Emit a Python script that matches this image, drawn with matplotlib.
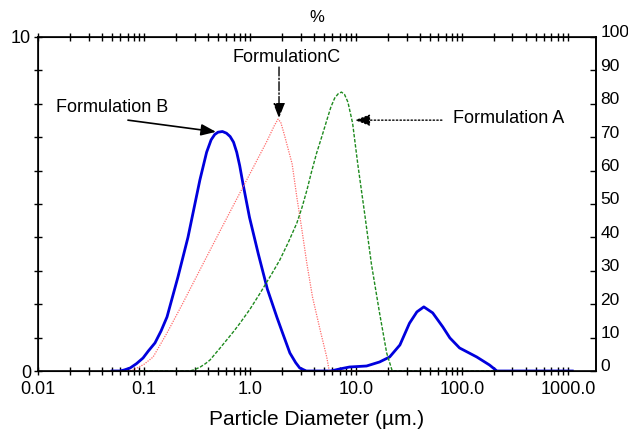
import numpy as np
import matplotlib
matplotlib.use('Agg')
import matplotlib.pyplot as plt
from matplotlib.ticker import FixedLocator, FixedFormatter, LogLocator, NullFormatter
from matplotlib.transforms import ScaledTranslation

plt.rcParams['font.family'] = ['Liberation Sans', 'DejaVu Sans']

# particle size distributions (diameter in um, volume %)
b_size = [0.05, 0.059, 0.065, 0.074, 0.085, 0.098, 0.11, 0.127, 0.145, 0.165, 0.209,
          0.26, 0.3, 0.337, 0.39, 0.43, 0.465, 0.5, 0.55, 0.6, 0.65, 0.7, 0.75,
          0.8, 0.86, 0.99, 1.2, 1.46, 1.8, 2.03, 2.38, 2.7, 2.95, 3.4, 5.8, 7.0, 8.7,
          12.6, 16.7, 20.8, 26, 32, 37.6, 43.7, 53, 66, 77, 95, 138, 182, 214, 1100]
b_vol = [0, 0, 0.03, 0.09, 0.22, 0.39, 0.6, 0.84, 1.2, 1.62, 2.81,
         4.0, 4.95, 5.72, 6.55, 6.92, 7.08, 7.15, 7.17, 7.12, 7.02, 6.85, 6.55,
         6.15, 5.6, 4.6, 3.5, 2.45, 1.6, 1.14, 0.54, 0.25, 0.09, 0, 0, 0.06, 0.12,
         0.15, 0.27, 0.42, 0.78, 1.43, 1.77, 1.92, 1.74, 1.32, 0.99, 0.69, 0.42, 0.18, 0, 0]

c_size = [0.07, 0.079, 0.1, 0.122, 0.165, 0.23, 0.34, 0.48, 0.69, 0.99, 1.44, 1.7,
          1.84, 1.95, 2.1, 2.5, 2.77, 3.1, 3.45, 3.9, 4.6, 5.3, 5.6, 22]
c_vol = [0, 0.03, 0.2, 0.42, 1.14, 2.0, 3.05, 3.97, 4.93, 5.88, 6.87, 7.35,
         7.54, 7.45, 7.1, 6.2, 5.2, 4.2, 3.2, 2.2, 1.22, 0.42, 0, 0]

a_size = [0.09, 0.27, 0.3, 0.34, 0.38, 0.42, 0.46, 0.52, 0.6, 0.7, 0.8, 1.0, 1.23, 1.6,
          1.91, 2.3, 2.77, 3.1, 3.45, 3.8, 4.26, 4.8, 5.3, 5.8, 6.3, 6.8, 7.3, 7.8,
          8.4, 9.3, 10.4, 12.1, 14.0, 16.7, 19.5, 22, 220]
a_vol = [0, 0, 0.04, 0.12, 0.22, 0.33, 0.48, 0.68, 0.92, 1.18, 1.42, 1.85, 2.3, 2.9,
         3.32, 3.85, 4.43, 4.9, 5.42, 5.95, 6.53, 7.05, 7.5, 7.9, 8.17, 8.3, 8.35, 8.28,
         8.05, 7.42, 6.2, 4.7, 3.2, 1.74, 0.54, 0, 0]

x_ticks = [0.01, 0.1, 1, 10, 100, 1000]
x_labels = ['0.01', '0.1', '1.0', '10.0', '100.0', '1000.0']
y_ticks = list(range(11))
y_labels = ['0'] + [''] * 9 + ['10']
pct_ticks = list(range(0, 101, 10))

fig = plt.figure(figsize=(6.28, 4.30), dpi=100)
ax = fig.add_axes([0.0605, 0.1372, 0.8885, 0.7768])

ax.plot(b_size, b_vol, color='#0000dd', lw=2.0)
ax.plot(c_size, c_vol, color='#ff6b6b', lw=0.9, ls=(0, (1, 1)))
ax.plot(a_size, a_vol, color='#1e8a1e', lw=1.0, ls=(0, (2.5, 1.2)))

ax.set_xscale('log')
ax.set_xlim(0.01, 1840)
ax.set_ylim(0, 10)
ax.xaxis.set_major_locator(FixedLocator(x_ticks))
ax.xaxis.set_major_formatter(FixedFormatter(x_labels))
ax.xaxis.set_minor_locator(LogLocator(base=10, subs=range(2, 10)))
ax.xaxis.set_minor_formatter(NullFormatter())
ax.yaxis.set_major_locator(FixedLocator(y_ticks))
ax.yaxis.set_major_formatter(FixedFormatter(y_labels))
ax.tick_params(axis='x', which='both', direction='inout', length=6, width=1,
               top=True, labelsize=13, pad=4)
ax.tick_params(axis='y', which='both', direction='inout', length=6, width=1,
               labelsize=13, pad=2)
for s in ax.spines.values():
    s.set_linewidth(1.2)
ax.set_xlabel('Particle Diameter (\u00b5m.)', fontsize=15, labelpad=9)
ax.text(0.5, 1.035, '%', transform=ax.transAxes, ha='center', va='bottom', fontsize=12)

ax2 = ax.twinx()
ax2.set_ylim(0, 100)
ax2.yaxis.set_major_locator(FixedLocator(pct_ticks))
ax2.tick_params(axis='y', direction='in', length=4, width=1, labelsize=12.5, pad=3)
lift = ScaledTranslation(0, 4 / 72, fig.dpi_scale_trans)
for lab in ax2.get_yticklabels():
    lab.set_transform(lab.get_transform() + lift)
ax2.spines['right'].set_linewidth(1.2)

# annotations
ax.text(0.0499, 7.9, 'Formulation B', ha='center', va='center', fontsize=13)
ax.annotate('', xy=(0.478, 7.16), xytext=(0.0706, 7.51),
            arrowprops=dict(arrowstyle='-|>,head_length=0.9,head_width=0.35',
                            color='black', lw=1.2, shrinkA=0, shrinkB=0))
ax.text(2.23, 9.4, 'FormulationC', ha='center', va='center', fontsize=13)
ax.annotate('', xy=(1.88, 7.57), xytext=(1.88, 9.1),
            arrowprops=dict(arrowstyle='-|>,head_length=0.9,head_width=0.35',
                            color='black', lw=1.0, ls='-.', shrinkA=0, shrinkB=0))
ax.text(82, 7.57, 'Formulation A', ha='left', va='center', fontsize=13)
ax.annotate('', xy=(9.8, 7.51), xytext=(64.7, 7.51),
            arrowprops=dict(arrowstyle='-|>,head_length=0.9,head_width=0.35',
                            color='black', lw=1.0, ls=':', shrinkA=0, shrinkB=0))

fig.savefig('out.png', dpi=100)
